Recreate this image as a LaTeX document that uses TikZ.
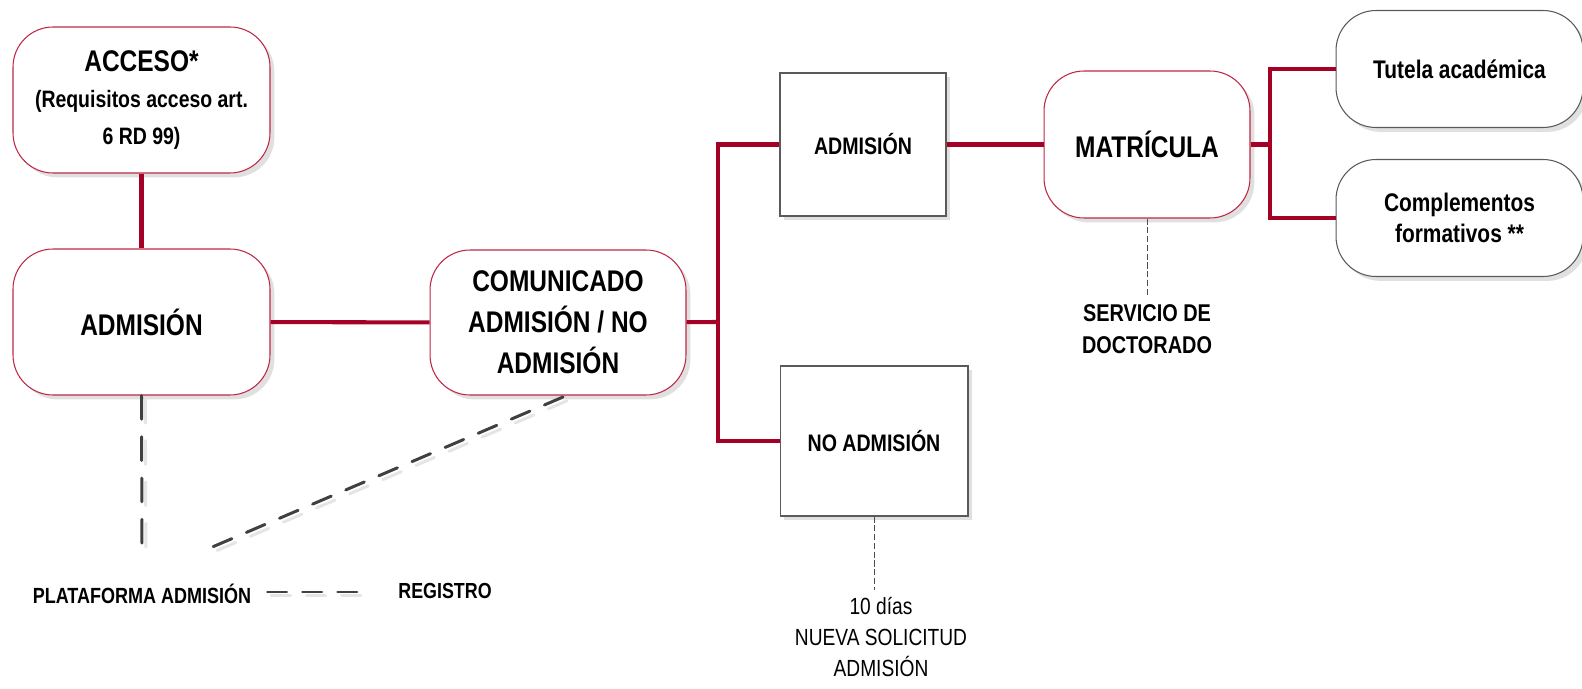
\documentclass[tikz,border=0pt]{standalone}
\usepackage{fontspec}
\setmainfont{Liberation Sans}[FakeStretch=0.82]
\usetikzlibrary{positioning,shadows,calc}
\definecolor{linkred}{RGB}{165,0,38}
\definecolor{edgered}{RGB}{190,40,70}
\definecolor{edgegrey}{RGB}{90,90,90}
\definecolor{dashgrey}{RGB}{64,64,64}
\tikzset{
	boxshadow/.style = {
		drop shadow = {shadow xshift = 2.5pt, shadow yshift = -2.5pt, fill = black!12, opacity = 1}
	}
}

\begin{document}
\begin{tikzpicture}[
x = 0.02cm, y = -0.02cm,
every node/.style = {
	align = center
},
phase/.style = {
	draw = edgered,
	line width = 0.6pt,
	fill = white,
	rounded corners = 0.8cm,
	boxshadow,
	minimum width = 5.14cm,
	minimum height = 2.92cm,
	font = \bfseries\fontsize{17}{23.4}\selectfont
},
stage/.style = {
	draw = edgegrey,
	line width = 0.6pt,
	fill = white,
	boxshadow,
	minimum width = 3.32cm,
	minimum height = 2.86cm,
	font = \bfseries\fontsize{13.6}{18}\selectfont
},
option/.style = {
	draw = edgegrey,
	line width = 0.6pt,
	fill = white,
	rounded corners = 0.8cm,
	boxshadow,
	minimum width = 4.94cm,
	minimum height = 2.34cm,
	font = \bfseries\fontsize{14.5}{17.5}\selectfont
},
note/.style = {
	inner sep = 0pt,
	font = \bfseries\fontsize{13.8}{18}\selectfont
},
link/.style = {
	draw = linkred,
	line width = 2.3pt
},
dashlink/.style = {
	draw = dashgrey,
	line width = 1.7pt,
	line cap = round,
	dash pattern = #1,
	preaction = {
		draw = black!10,
		line width = 1.7pt,
		line cap = round,
		dash pattern = #1,
		transform canvas = {shift = {(2.2pt,-2.2pt)}}
	}
},
dashlink/.default = {on 11.5pt off 9pt},
thinlink/.style = {
	draw = black!70,
	line width = 0.5pt,
	dash pattern = on 3.5pt off 1.5pt
}
]

% main flow
\node (acceso) [phase, font = \bfseries\fontsize{13.5}{21}\selectfont] at (141.5,100) {{\fontsize{17}{21}\selectfont ACCESO*}\\ (Requisitos acceso art.\\ 6 RD 99)};
\node (admision) [phase] at (141.5,322) {ADMISIÓN};
\node (comunicado) [phase, minimum width = 5.12cm, minimum height = 2.9cm] at (558,322.5) {COMUNICADO\\ ADMISIÓN / NO\\ ADMISIÓN};
\node (admitido) [stage] at (863,144.5) {ADMISIÓN};
\node (noadmitido) [stage, minimum width = 3.76cm, minimum height = 3cm] at (874,441) {NO ADMISIÓN};
\node (matricula) [phase, minimum width = 4.12cm, minimum height = 2.94cm] at (1147,144.5) {MATRÍCULA};
\node (tutela) [option] at (1459.5,69) {Tutela académica};
\node (complementos) [option] at (1459.5,218) {Complementos\\ formativos **};

\coordinate (fork1) at (718,322);
\coordinate (fork2) at (1270,144.5);

\draw[link] (acceso) -- (admision);
\draw[link] (admision) -- (comunicado);
\draw[link] (comunicado) -- (fork1);
\draw[link] (admitido) -| (fork1) |- (noadmitido);
\draw[link] (admitido) -- (matricula);
\draw[link] (matricula) -- (fork2);
\draw[link] (tutela) -| (fork2) |- (complementos);

% notes
\node (servicio) [note] at (1147,329) {SERVICIO DE\\ DOCTORADO};
\node (plazo) [note, font = \fontsize{13.3}{17.6}\selectfont] at (881,637) {10 días\\ NUEVA SOLICITUD\\ ADMISIÓN};
\draw[thinlink, shorten >= 4pt] (matricula) -- (servicio);
\draw[thinlink, shorten >= 4pt] (noadmitido) -- (noadmitido |- plazo.north);

% legend
\node (plataforma) [note, font = \bfseries\fontsize{12.5}{15}\selectfont] at (142,594) {PLATAFORMA ADMISIÓN};
\node (registro) [note, font = \bfseries\fontsize{12.4}{15}\selectfont] at (445,591) {REGISTRO};
\coordinate (platend) at (142,548);
\coordinate (regend) at (210,548);

\draw[dashlink = {on 13.5pt off 10pt}] (admision.south) -- (platend);
\draw[dashlink] (563,397) -- (regend);
\draw[dashlink = {on 11pt off 9pt}]
	([xshift = 9pt] plataforma.east |- 0,592) -- ([xshift = -21pt] registro.west |- 0,592);

\pgfresetboundingbox
\useasboundingbox (0,0) rectangle (1582,689);

\end{tikzpicture}
\end{document}
